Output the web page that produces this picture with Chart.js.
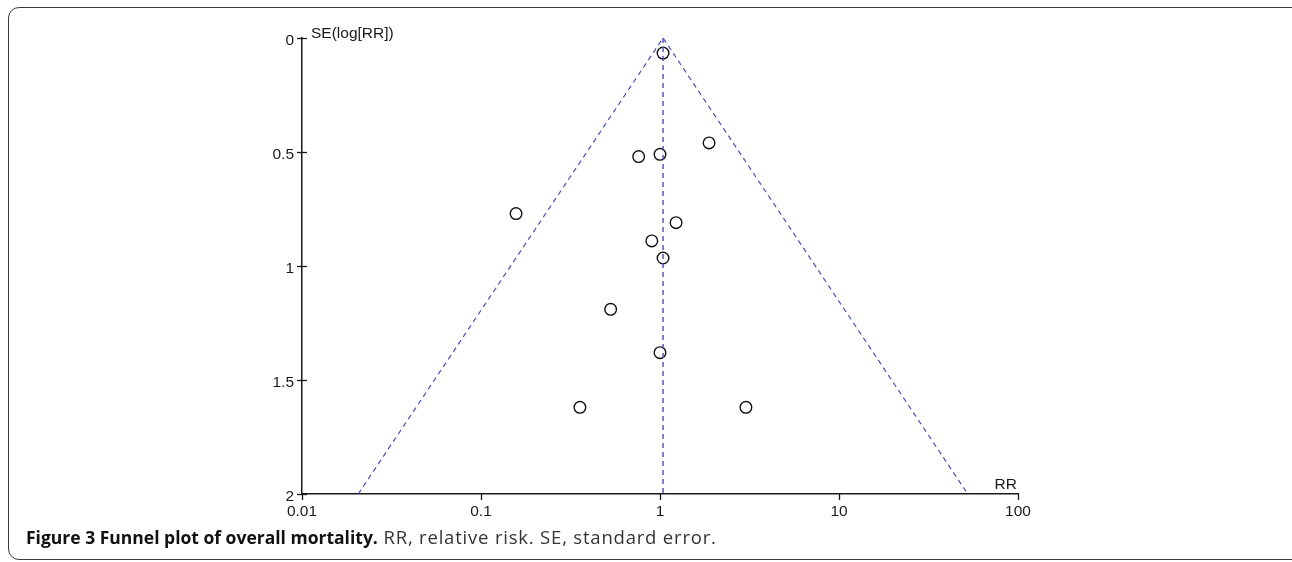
<!DOCTYPE html>
<html>
<head>
<meta charset="utf-8">
<script src="https://cdn.jsdelivr.net/npm/chart.js@4/dist/chart.umd.min.js"></script>
<style>
  html, body { margin: 0; padding: 0; background: #fff; width: 1292px; height: 562px; overflow: hidden; }
  #wrap { position: relative; width: 1292px; height: 562px; }
  #c { position: absolute; left: 0; top: 0; }
  #frame { position: absolute; left: 8px; top: 7px; width: 1300px; height: 553px; border: 1.5px solid #3a3a3a; border-radius: 11px; box-sizing: border-box; }
  #caption { position: absolute; left: 26px; top: 524px; font-family: "Open Sans", sans-serif; font-size: 18.5px; letter-spacing: 0.8px; color: #333; white-space: nowrap; }
  #caption b { color: #111; font-weight: 700; font-size: 17.5px; letter-spacing: 0; }
</style>
</head>
<body>
<div id="wrap">
  <canvas id="c" width="1292" height="562"></canvas>
  <div id="frame"></div>
  <div id="caption"><b>Figure 3 Funnel plot of overall mortality.</b> RR, relative risk. SE, standard error.</div>
</div>
<script>
// Study estimates (relative risk) and their standard errors of log(RR)
const studyRR = [1.04, 1.88, 0.76, 1.00, 0.157, 1.23, 0.90, 1.04, 0.53, 1.00, 0.357, 3.02];
const studySE = [0.066, 0.46, 0.52, 0.51, 0.77, 0.81, 0.89, 0.965, 1.19, 1.38, 1.62, 1.62];

// Pooled estimate line and 95% pseudo-confidence funnel
const pooledX = [1.04, 1.04];
const pooledY = [0, 2];
const funnelX = [0.0206, 1.04, 52.4];
const funnelY = [2, 0, 2];

// Axis ticks
const xTicks = [0.01, 0.1, 1, 10, 100];
const xTickLabels = ["0.01", "0.1", "1", "10", "100"];
const yTicks = [0, 0.5, 1, 1.5, 2];
const yTickLabels = ["0", "0.5", "1", "1.5", "2"];

const xTitle = "RR";
const yTitle = "SE(log[RR])";

const toPts = (xs, ys) => xs.map((x, i) => ({ x: x, y: ys[i] }));

const AXIS_FONT = { family: "'Liberation Sans', Arial, sans-serif", size: 15.5 };
const BLUE = "#4552b3";
const AXIS_COLOR = "#1a1a1a";

const titlesPlugin = {
  id: 'axisTitles',
  afterDraw(chart) {
    const { ctx, chartArea } = chart;
    ctx.save();
    ctx.fillStyle = AXIS_COLOR;
    ctx.font = "15.5px 'Liberation Sans', Arial, sans-serif";
    ctx.textBaseline = 'alphabetic';
    ctx.textAlign = 'left';
    ctx.fillText(yTitle, chartArea.left + 9, chartArea.top - 0.5);
    ctx.textAlign = 'right';
    ctx.fillText(xTitle, chartArea.right - 1, chartArea.bottom - 5);
    // tick marks crossing the axes
    ctx.strokeStyle = AXIS_COLOR;
    ctx.lineWidth = 1.3;
    const ys = chart.scales.y;
    yTicks.forEach(v => {
      const py = Math.round(ys.getPixelForValue(v)) + 0.5;
      ctx.beginPath();
      ctx.moveTo(chartArea.left - 5, py);
      ctx.lineTo(chartArea.left + 5, py);
      ctx.stroke();
    });
    const xs = chart.scales.x;
    xTicks.forEach(v => {
      const px = Math.round(xs.getPixelForValue(v)) + 0.5;
      ctx.beginPath();
      ctx.moveTo(px, chartArea.bottom);
      ctx.lineTo(px, chartArea.bottom + 6);
      ctx.stroke();
    });
    ctx.restore();
  }
};

new Chart(document.getElementById('c'), {
  type: 'scatter',
  data: {
    datasets: [
      {
        data: toPts(funnelX, funnelY),
        showLine: true,
        borderColor: BLUE,
        borderWidth: 1.2,
        borderDash: [5, 4],
        pointRadius: 0,
        fill: false
      },
      {
        data: toPts(pooledX, pooledY),
        showLine: true,
        borderColor: BLUE,
        borderWidth: 1.4,
        borderDash: [5, 4],
        pointRadius: 0,
        fill: false
      },
      {
        data: toPts(studyRR, studySE),
        showLine: false,
        pointStyle: 'circle',
        pointRadius: 5.8,
        pointBorderWidth: 1.4,
        pointBorderColor: '#111',
        pointBackgroundColor: 'rgba(0,0,0,0)',
        pointHoverRadius: 5.8
      }
    ]
  },
  options: {
    responsive: false,
    animation: false,
    devicePixelRatio: 1,
    layout: { padding: { left: 262, top: 38, right: 274, bottom: 38 } },
    plugins: { legend: { display: false }, tooltip: { enabled: false } },
    scales: {
      x: {
        type: 'logarithmic',
        min: 0.01,
        max: 100,
        afterBuildTicks: s => { s.ticks = xTicks.map(v => ({ value: v })); },
        afterFit: s => { s.height = 30; },
        border: { display: true, color: AXIS_COLOR, width: 1.5 },
        grid: { display: false },
        ticks: {
          autoSkip: false,
          maxRotation: 0,
          color: AXIS_COLOR,
          font: AXIS_FONT,
          padding: 0,
          callback: (v, i) => xTickLabels[i]
        }
      },
      y: {
        type: 'linear',
        reverse: true,
        min: 0,
        max: 2,
        afterBuildTicks: s => { s.ticks = yTicks.map(v => ({ value: v })); },
        afterFit: s => { s.width = 40; },
        border: { display: true, color: AXIS_COLOR, width: 1.5 },
        grid: { display: false },
        ticks: {
          color: AXIS_COLOR,
          font: AXIS_FONT,
          padding: 0,
          labelOffset: 3,
          callback: (v, i) => yTickLabels[i]
        }
      }
    }
  },
  plugins: [titlesPlugin]
});
</script>
</body>
</html>
